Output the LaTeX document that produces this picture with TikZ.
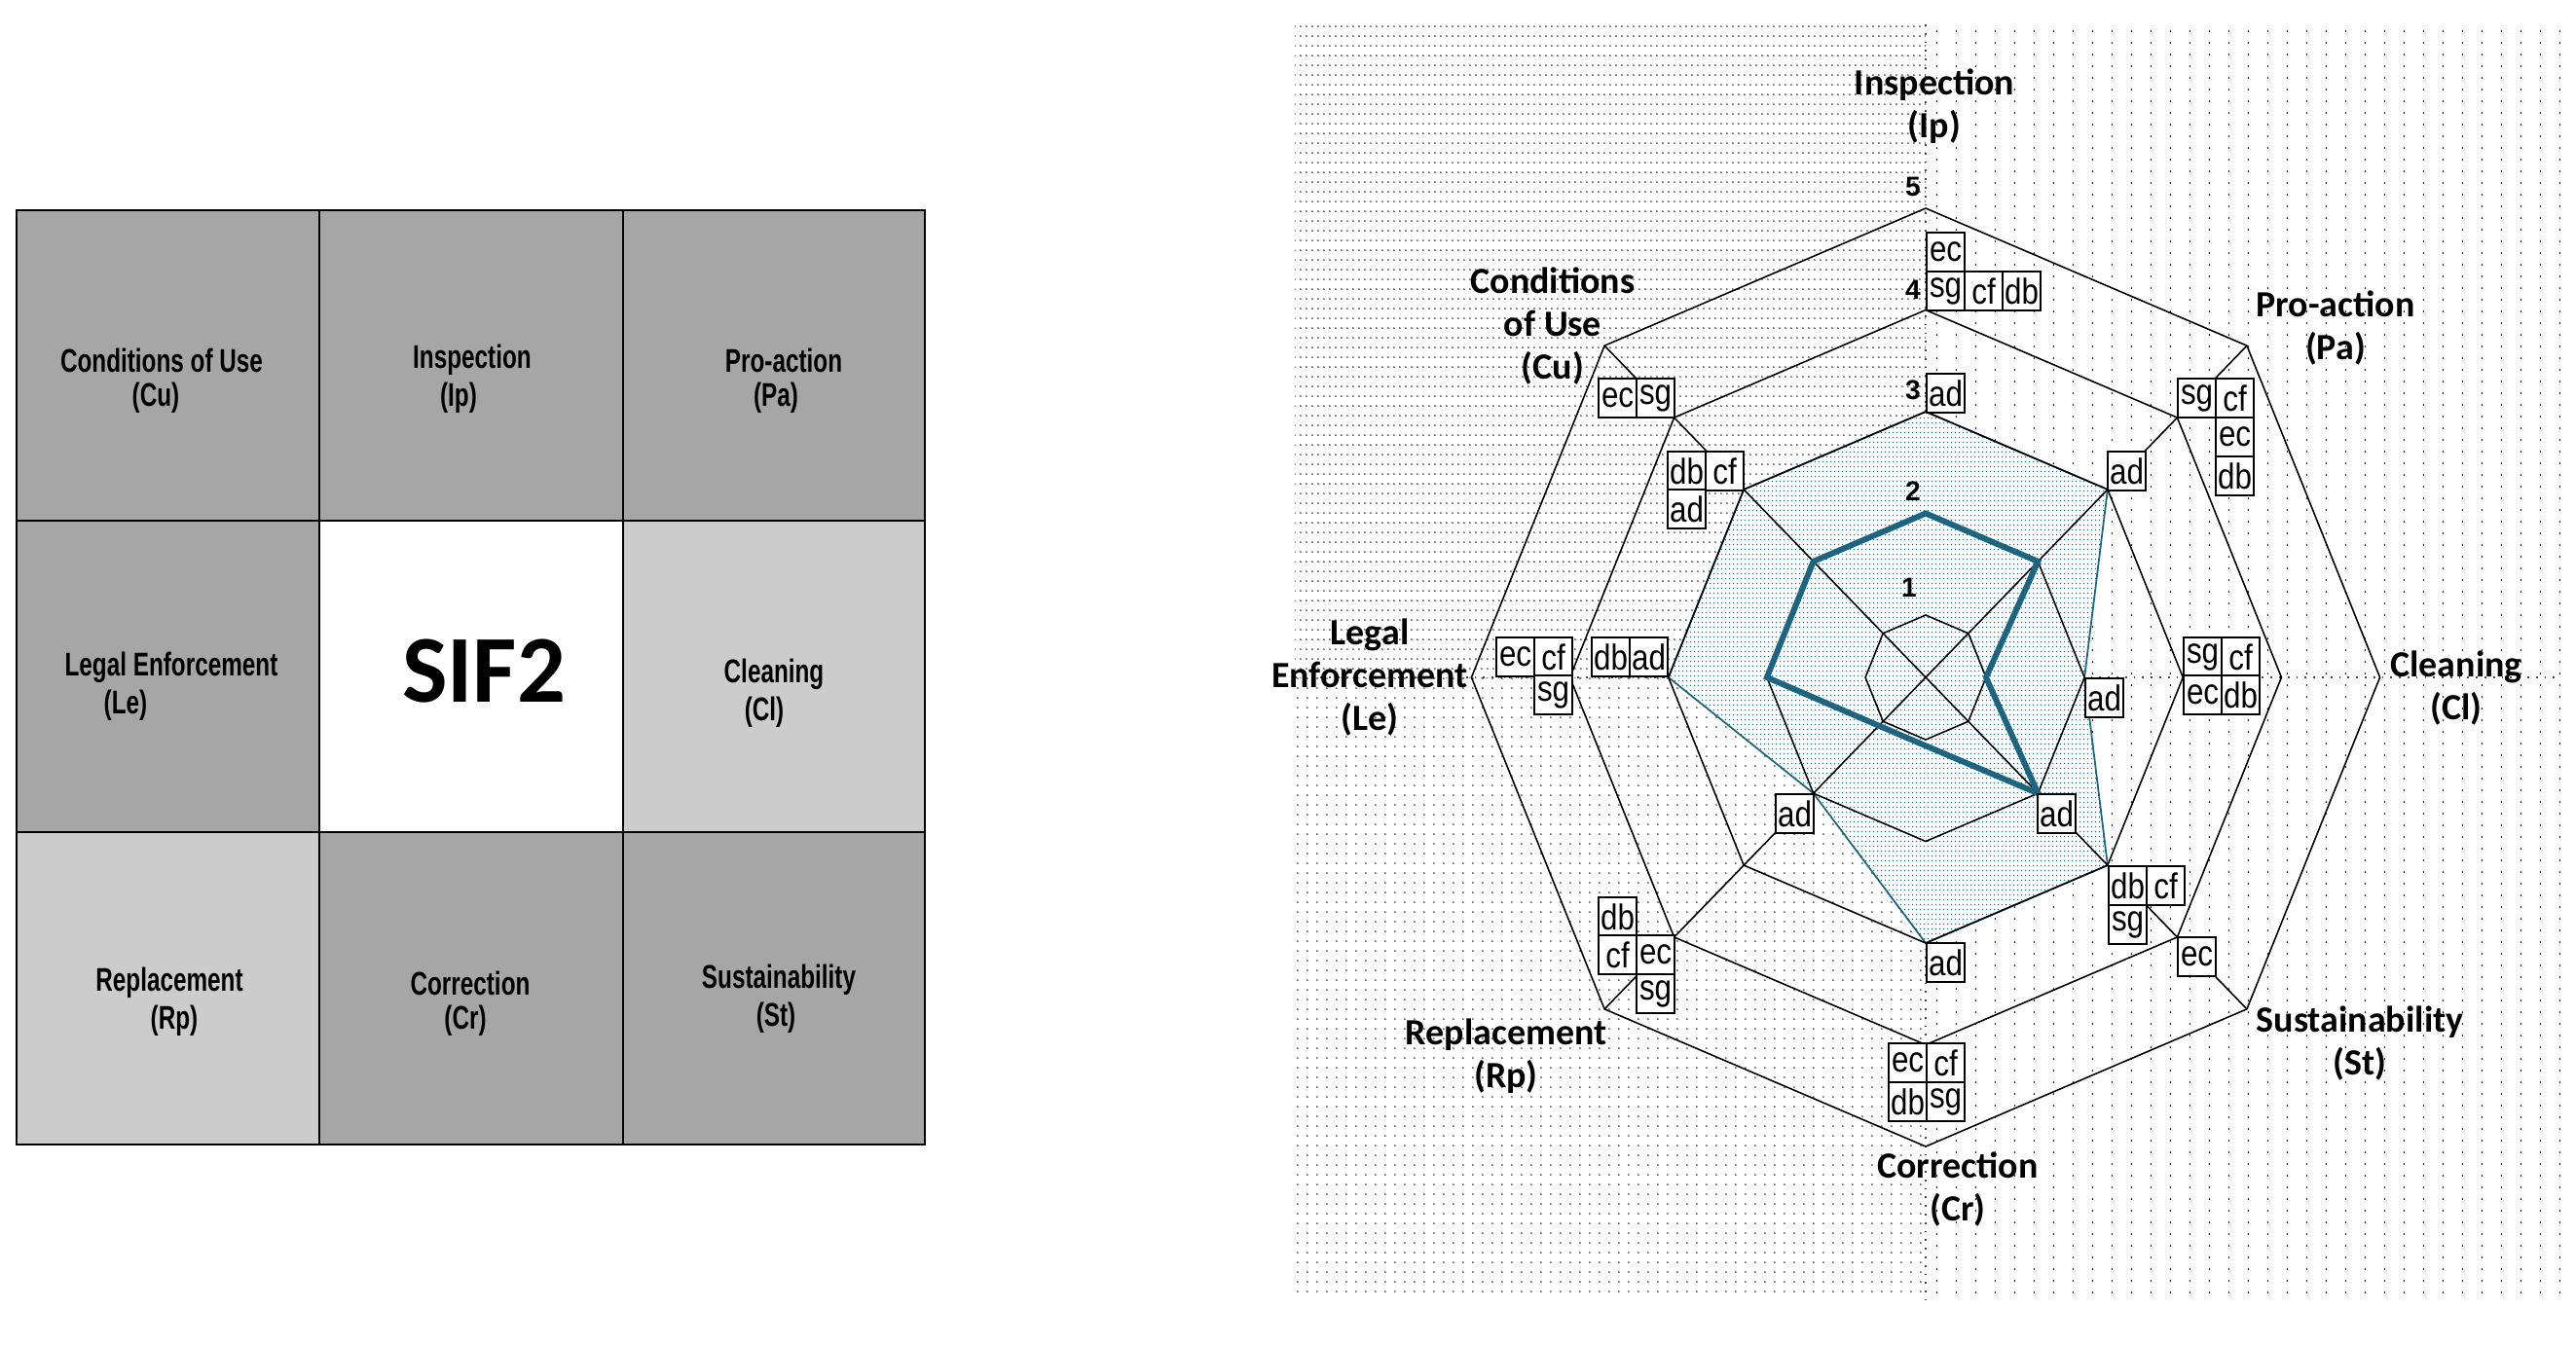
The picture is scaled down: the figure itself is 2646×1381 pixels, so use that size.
\documentclass[tikz,border=0pt]{standalone}
\usepackage{fontspec}
\setmainfont{Liberation Sans}
\newfontfamily\carl{Carlito}
\usetikzlibrary{patterns.meta}
\definecolor{teal1}{RGB}{28,100,128}
\definecolor{dkg}{RGB}{166,166,166}
\definecolor{ltg}{RGB}{204,204,204}
\tikzdeclarepattern{name=dotsdense, type=uncolored, bounding box={(0pt,0pt) and (1.7pt,2.84pt)}, tile size={(1.7pt,2.84pt)}, code={\fill (0.85pt,1.4pt) circle (0.24pt);}}
\tikzdeclarepattern{name=dotsmid, type=uncolored, bounding box={(0pt,0pt) and (2.84pt,2.84pt)}, tile size={(2.84pt,2.84pt)}, code={\fill (1.4pt,1.4pt) circle (0.24pt);}}
\tikzdeclarepattern{name=dotssparse, type=uncolored, bounding box={(0pt,0pt) and (5.69pt,3.4pt)}, tile size={(5.69pt,3.4pt)}, code={\fill (2.8pt,1.7pt) circle (0.26pt);}}
\tikzdeclarepattern{name=dotsteal, type=uncolored, bounding box={(0pt,0pt) and (1.14pt,1.42pt)}, tile size={(1.14pt,1.42pt)}, code={\fill (0.57pt,0.7pt) circle (0.22pt);}}
\newcommand{\nar}[1]{\scalebox{0.72}[1]{#1}}
\newcommand{\bxt}[1]{\scalebox{0.85}[1]{#1}}
\tikzset{
  cell/.style={draw=black, line width=0.6pt},
  gl/.style={font=\bfseries\fontsize{9.6}{11}\selectfont, inner sep=0},
  ax/.style={align=center, font=\carl\bfseries\fontsize{10.8}{12.6}\selectfont, inner sep=0},
  bx/.style={draw=black, fill=white, line width=0.6pt, minimum width=0.39cm, minimum height=0.4cm, inner sep=0, anchor=north west, font=\fontsize{10.5}{10.5}\selectfont},
  num/.style={font=\bfseries\fontsize{8}{9}\selectfont, inner sep=0},
  grid/.style={draw=black, line width=0.45pt},
}
\begin{document}
\begin{tikzpicture}[x=0.01cm, y=-0.01cm]
\useasboundingbox (0,0) rectangle (2646,1381);
% ---------- left grid ----------
\filldraw[cell, fill=dkg] (17,216) rectangle (328,535);
\filldraw[cell, fill=dkg] (328,216) rectangle (640,535);
\filldraw[cell, fill=dkg] (640,216) rectangle (950,535);
\filldraw[cell, fill=dkg] (17,535) rectangle (328,855);
\filldraw[cell, fill=white] (328,535) rectangle (640,855);
\filldraw[cell, fill=ltg] (640,535) rectangle (950,855);
\filldraw[cell, fill=ltg] (17,855) rectangle (328,1176);
\filldraw[cell, fill=dkg] (328,855) rectangle (640,1176);
\filldraw[cell, fill=dkg] (640,855) rectangle (950,1176);
\node[gl] (g1a) at (166,370) {\nar{Conditions of Use}};
\node[gl] (g1b) at (160,409) {\nar{(Cu)}};
\node[gl] (g2a) at (485,370) {\nar{Inspection}};
\node[gl] (g2b) at (471,409) {\nar{(Ip)}};
\node[gl] (g3a) at (805,370) {\nar{Pro-action}};
\node[gl] (g3b) at (797,409) {\nar{(Pa)}};
\node[gl] (g4a) at (176,686) {\nar{Legal Enforcement}};
\node[gl] (g4b) at (129,725) {\nar{(Le)}};
\node[font=\carl\bfseries\fontsize{28}{30}\selectfont, inner sep=0] (sif) at (497,690) {SIF2};
\node[gl] (g6a) at (795,693) {\nar{Cleaning}};
\node[gl] (g6b) at (785,732) {\nar{(Cl)}};
\node[gl] (g7a) at (174,1010) {\nar{Replacement}};
\node[gl] (g7b) at (179,1049) {\nar{(Rp)}};
\node[gl] (g8a) at (483,1010) {\nar{Correction}};
\node[gl] (g8b) at (478,1049) {\nar{(Cr)}};
\node[gl] (g9a) at (800,1007) {\nar{Sustainability}};
\node[gl] (g9b) at (797,1046) {\nar{(St)}};
% ---------- radar background ----------
\fill[pattern=dotsdense, pattern color=black] (1330,25) rectangle (1978,696);
\fill[pattern=dotsmid, pattern color=black] (1330,696) rectangle (1978,1335);
\fill[pattern=dotssparse, pattern color=black] (1978,25) rectangle (2630,1335);
\draw[black!70, dotted, line width=0.5pt] (1978,25) -- (1978,1335);
\draw[black!70, dotted, line width=0.5pt] (1330,696) -- (2630,696);
\begin{scope}[shift={(1978,696)}, x=0.00967cm, y=0.01cm]
  % shaded series
  \fill[white] (90:{104.5*3-40.5}) -- (45:{104.5*3-40.5}) -- (0:{104.5*2-40.5}) -- (-45:{104.5*3-40.5})
    -- (-90:{104.5*3-40.5}) -- (-135:{104.5*2-40.5}) -- (180:{104.5*3-40.5}) -- (135:{104.5*3-40.5}) -- cycle;
  \filldraw[pattern=dotsteal, pattern color=teal1, draw=teal1, line width=0.5pt]
    (90:{104.5*3-40.5}) -- (45:{104.5*3-40.5}) -- (0:{104.5*2-40.5}) -- (-45:{104.5*3-40.5})
    -- (-90:{104.5*3-40.5}) -- (-135:{104.5*2-40.5}) -- (180:{104.5*3-40.5}) -- (135:{104.5*3-40.5}) -- cycle;
  % grid octagons
  \foreach \v in {1,...,5}{
    \pgfmathsetmacro\r{104.5*\v-40.5}
    \draw[grid] (90:\r) -- (45:\r) -- (0:\r) -- (-45:\r) -- (-90:\r) -- (-135:\r) -- (180:\r) -- (135:\r) -- cycle;
  }
  \foreach \a in {45,-45,-135,135}
    \draw[grid] (0,0) -- (\a:482);
  % thick series
  \draw[teal1, line width=1.7pt, line join=miter]
    (90:{104.5*2-40.5}) -- (45:{104.5*2-40.5}) -- (0:{104.5*1-40.5}) -- (-45:{104.5*2-40.5})
    -- (-90:{104.5*1.06-40.5}) -- (-135:{104.5*1.06-40.5}) -- (180:{104.5*2-40.5}) -- (135:{104.5*2-40.5}) -- cycle;
\end{scope}
% level numbers
\node[num] (n5) at (1965,192) {5};
\node[num] (n4) at (1965,298) {4};
\node[num] (n3) at (1965,401) {3};
\node[num] (n2) at (1965,505) {2};
\node[num] (n1) at (1961,604) {1};
% axis labels
\node[ax] (lIp) at (1987,109) {Inspection\\(Ip)};
\node[ax] (lCu) at (1595,335) {Conditions\\of Use\\(Cu)};
\node[ax] (lPa) at (2399,337) {Pro-action\\(Pa)};
\node[ax] (lCl) at (2523,707) {Cleaning\\(Cl)};
\node[ax] (lSt) at (2424,1072) {Sustainability\\(St)};
\node[ax] (lCr) at (2011,1222) {Correction\\(Cr)};
\node[ax] (lRp) at (1547,1085) {Replacement\\(Rp)};
\node[ax] (lLe) at (1407,696) {Legal\\Enforcement\\(Le)};
% data label boxes
% Ip
\node[bx] (ip1) at (1978,238) {\bxt{ec}};
\node[bx] (ip2) at (1978,278) {\bxt{sg}};
\node[bx] (ip3) at (2017,278) {\bxt{cf}};
\node[bx] (ip4) at (2056,278) {\bxt{db}};
\node[bx] (ip5) at (1978,383) {\bxt{ad}};
% Cu
\node[bx] (cu1) at (1641,388) {\bxt{ec}};
\node[bx] (cu2) at (1680,388) {\bxt{sg}};
\node[bx] (cu3) at (1712,463) {\bxt{db}};
\node[bx] (cu4) at (1751,463) {\bxt{cf}};
\node[bx] (cu5) at (1712,502) {\bxt{ad}};
% Pa
\node[bx] (pa1) at (2236,388) {\bxt{sg}};
\node[bx] (pa2) at (2275,388) {\bxt{cf}};
\node[bx] (pa3) at (2275,428) {\bxt{ec}};
\node[bx] (pa4) at (2275,468) {\bxt{db}};
\node[bx] (pa5) at (2164,463) {\bxt{ad}};
% Cl
\node[bx] (cl1) at (2242,654) {\bxt{sg}};
\node[bx] (cl2) at (2281,654) {\bxt{cf}};
\node[bx] (cl3) at (2242,693) {\bxt{ec}};
\node[bx] (cl4) at (2281,693) {\bxt{db}};
\node[bx] (cl5) at (2141,696) {\bxt{ad}};
% St
\node[bx] (st1) at (2092,815) {\bxt{ad}};
\node[bx] (st2) at (2165,889) {\bxt{db}};
\node[bx] (st3) at (2204,889) {\bxt{cf}};
\node[bx] (st4) at (2165,929) {\bxt{sg}};
\node[bx] (st5) at (2236,962) {\bxt{ec}};
% Cr
\node[bx] (cr1) at (1978,968) {\bxt{ad}};
\node[bx] (cr2) at (1939,1071) {\bxt{ec}};
\node[bx] (cr3) at (1978,1071) {\bxt{cf}};
\node[bx] (cr4) at (1939,1111) {\bxt{db}};
\node[bx] (cr5) at (1978,1111) {\bxt{sg}};
% Rp
\node[bx] (rp1) at (1823,815) {\bxt{ad}};
\node[bx] (rp2) at (1641,921) {\bxt{db}};
\node[bx] (rp3) at (1641,960) {\bxt{cf}};
\node[bx] (rp4) at (1680,960) {\bxt{ec}};
\node[bx] (rp5) at (1680,1000) {\bxt{sg}};
% Le
\node[bx] (le1) at (1634,654) {\bxt{db}};
\node[bx] (le2) at (1673,654) {\bxt{ad}};
\node[bx] (le3) at (1536,654) {\bxt{ec}};
\node[bx] (le4) at (1575,654) {\bxt{cf}};
\node[bx] (le5) at (1575,693) {\bxt{sg}};
\end{tikzpicture}
\end{document}
